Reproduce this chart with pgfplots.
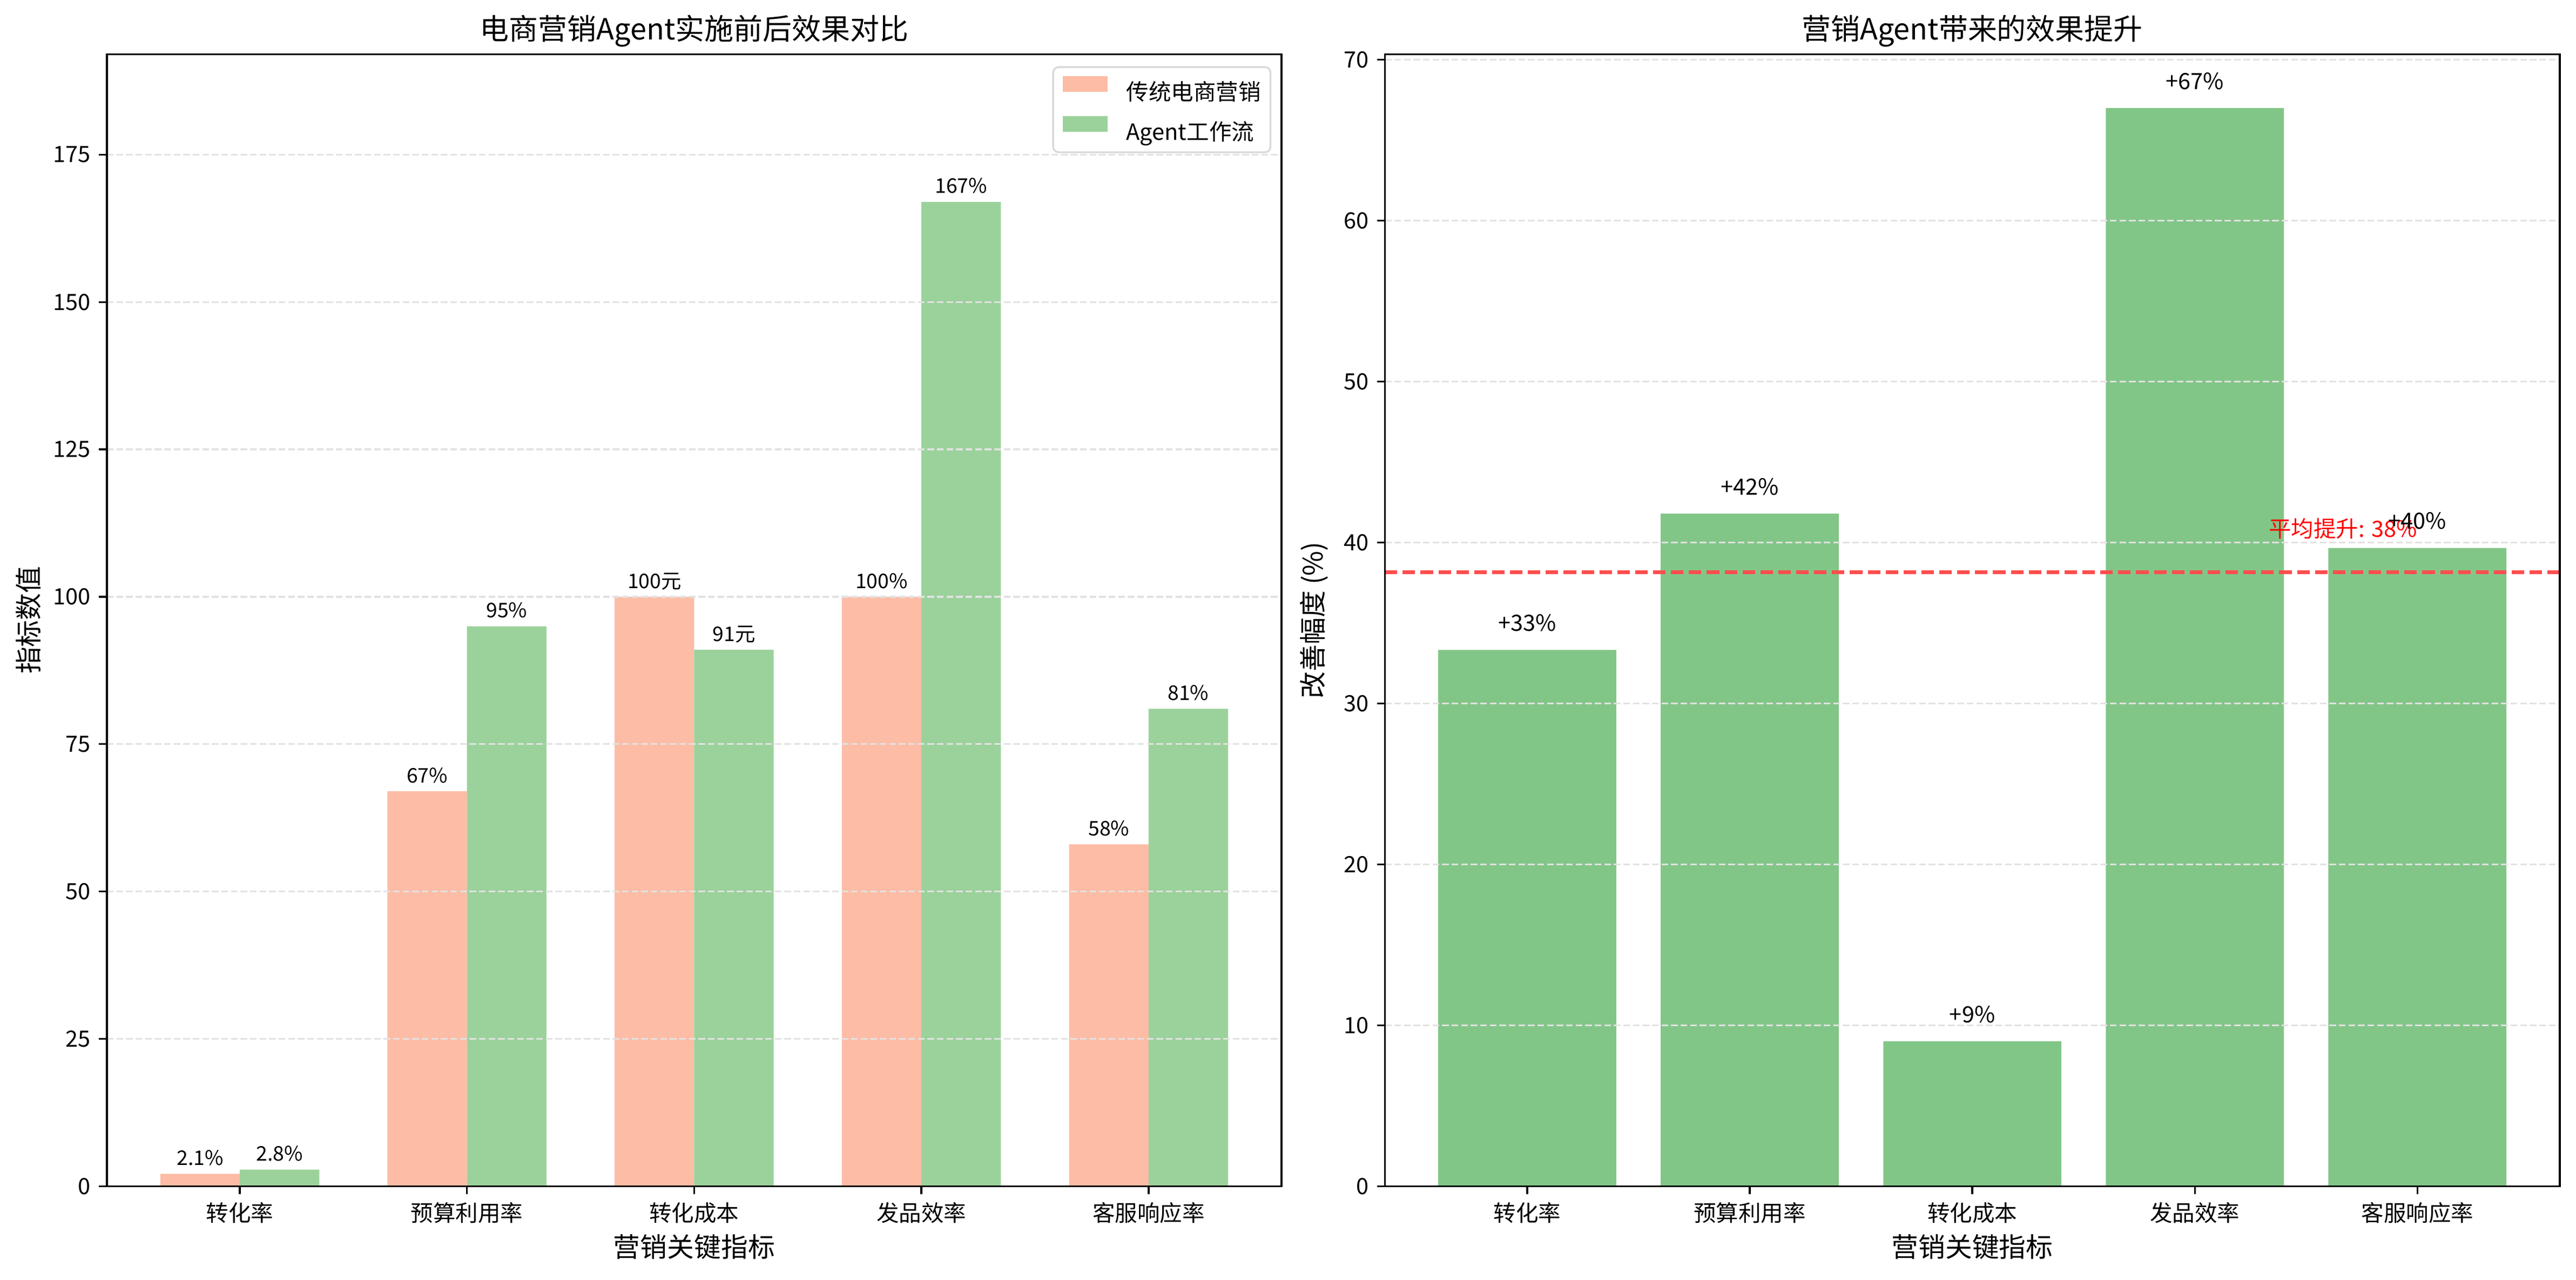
\documentclass[border=0pt]{standalone}
\usepackage{fontspec}
\setmainfont{Noto Sans CJK SC}
\usepackage{pgfplots}
\pgfplotsset{compat=1.18}
\definecolor{trad}{RGB}{253,188,165}
\definecolor{agentL}{RGB}{155,210,155}
\definecolor{agentR}{RGB}{130,198,135}
\definecolor{avgred}{RGB}{255,77,77}
\definecolor{gridc}{RGB}{226,226,226}
\pgfplotsset{
 myleg/.style={legend image code/.code={\fill[##1,sharp corners] (0bp,0.2bp) rectangle (20bp,7.2bp);}},
 mystyle/.style={
  scale only axis, height=503bp,
  axis line style={black, line width=0.8bp},
  tick pos=left, tick align=outside,
  major tick length=3.5bp,
  every tick/.style={black, line width=0.8bp},
  ymajorgrids, major grid style={gridc, line width=0.8bp, dash pattern=on 2.96bp off 1.28bp},
  axis on top,
  enlargelimits=false,
  /pgf/number format/assume math mode=true,
  ticklabel style={font=\fontsize{10}{12}\selectfont},
  yticklabel style={inner sep=0pt, xshift=-3.5bp},
  xticklabel style={inner sep=0pt, yshift=-3.5bp},
  title style={at={(0.5,1)}, anchor=base, yshift=0.5bp, inner sep=0pt, font=\fontsize{13}{15}\selectfont},
  xlabel style={at={(axis description cs:0.5,0)}, anchor=base, yshift=-31.5bp, inner sep=0pt, font=\fontsize{12}{14}\selectfont},
  ylabel style={font=\fontsize{12}{14}\selectfont, anchor=center, inner sep=0pt},
  xtick={0,1,2,3,4},
  xticklabels={转化率,预算利用率,转化成本,发品效率,客服响应率},
 }
}
\begin{document}
\begin{tikzpicture}
\useasboundingbox (0,0) rectangle (1144.8bp,568.6bp);
\begin{axis}[mystyle, at={(47.5bp,41.5bp)}, anchor=south west, width=522bp,
  xmin=-0.585, xmax=4.585, ymin=0, ymax=192.05, ytick={0,25,...,175},
  title={电商营销Agent实施前后效果对比}, xlabel={营销关键指标}, ylabel={指标数值},
  ylabel style={at={(axis description cs:-0.067,0.5)}},
  legend style={at={(1,1)}, anchor=north east, xshift=-4.5bp, yshift=-5.3bp,
    draw=black!15, line width=0.8bp, rounded corners=2.5bp, fill=white,
    font=\fontsize{10}{12}\selectfont, inner xsep=4.3bp, inner ysep=4bp, row sep=5.6bp,
    nodes={inner sep=0pt}, /tikz/every odd column/.append style={column sep=8.2bp}},
  legend cell align=left]
\addplot[ybar, bar width=0.35, bar shift=0pt, fill=trad, draw=none, myleg,
  point meta=explicit symbolic, nodes near coords,
  nodes near coords style={text=black, font=\fontsize{9}{11}\selectfont, anchor=base, inner sep=0pt, yshift=3.8bp}]
  coordinates {(-0.175,2.1)[2.1\%] (0.825,67)[67\%] (1.825,100)[100元] (2.825,100)[100\%] (3.825,58)[58\%]};
\addlegendentry{传统电商营销}
\addplot[ybar, bar width=0.35, bar shift=0pt, fill=agentL, draw=none, myleg,
  point meta=explicit symbolic, nodes near coords,
  nodes near coords style={text=black, font=\fontsize{9}{11}\selectfont, anchor=base, inner sep=0pt, yshift=3.8bp}]
  coordinates {(0.175,2.8)[2.8\%] (1.175,95)[95\%] (2.175,91)[91元] (3.175,167)[167\%] (4.175,81)[81\%]};
\addlegendentry{Agent工作流}
\end{axis}
\begin{axis}[mystyle, at={(615.4bp,41.5bp)}, anchor=south west, width=522.2bp,
  xmin=-0.64, xmax=4.64, ymin=0, ymax=70.35, ytick={0,10,...,70},
  title={营销Agent带来的效果提升}, xlabel={营销关键指标}, ylabel={改善幅度 (\%)},
  ylabel style={at={(axis description cs:-0.0601,0.5)}}, clip=false]
\addplot[ybar, bar width=0.8, bar shift=0pt, fill=agentR, draw=none,
  point meta=explicit symbolic, nodes near coords,
  nodes near coords style={text=black, font=\fontsize{10}{12}\selectfont, anchor=base, inner sep=0pt, yshift=8.4bp}]
  coordinates {(0,33.33)[+33\%] (1,41.79)[+42\%] (2,9)[+9\%] (3,67)[+67\%] (4,39.66)[+40\%]};
\addplot[avgred, line width=1.5bp, dash pattern=on 5.55bp off 2.4bp, forget plot]
  coordinates {(-0.64,38.16) (4.64,38.16)};
\node[anchor=base east, yshift=1.2bp, text=red, font=\fontsize{10}{12}\selectfont, inner sep=0pt] at (axis cs:4,40.16) {平均提升: 38\%};
\end{axis}
\end{tikzpicture}
\end{document}
